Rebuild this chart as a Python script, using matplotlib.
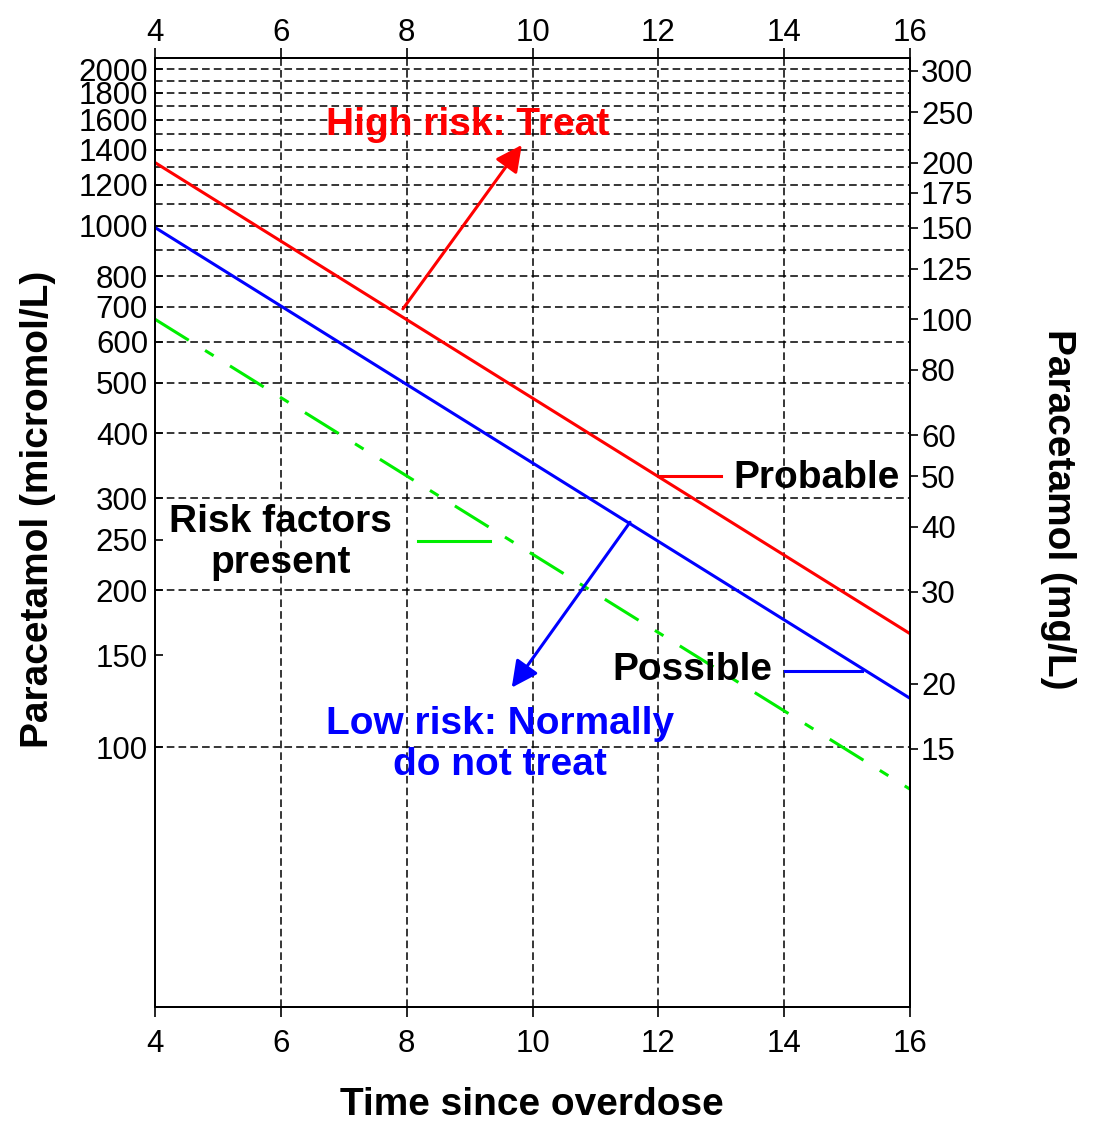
import matplotlib
matplotlib.use("Agg")
import matplotlib.pyplot as plt
from matplotlib.ticker import FixedLocator, NullLocator, NullFormatter, FixedFormatter

# ---- data ----
hours = [4, 16]
probable = [1323, 165]        # micromol/L (200 mg/L line)
possible = [993, 124]         # micromol/L (150 mg/L line)
risk_factors = [662, 83]      # micromol/L (100 mg/L line)
x_ticks = [4, 6, 8, 10, 12, 14, 16]
left_ticks = [100, 150, 200, 250, 300, 400, 500, 600, 700, 800,
              1000, 1200, 1400, 1600, 1800, 2000]
grid_levels = list(range(100, 2001, 100))
right_ticks = [15, 20, 30, 40, 50, 60, 80, 100, 125, 150, 175, 200, 250, 300]
mg_per_umol = 0.15116
y_limits = [31.7, 2100]

plt.rcParams['font.family'] = ['Liberation Sans', 'DejaVu Sans']

fig = plt.figure(figsize=(10.95, 11.24), dpi=100)
ax = fig.add_axes([155 / 1095, 1 - 1007 / 1124, 755 / 1095, 949 / 1124])

RED, BLUE, GREEN = '#ff0000', '#0000ff', '#00ee00'
TICK_FS = 22.5

ax.set_yscale('log')
ax.set_xlim(hours[0], hours[-1])
ax.set_ylim(*y_limits)

ax.plot(hours, probable, color=RED, lw=2.2, zorder=3)
ax.plot(hours, possible, color=BLUE, lw=2.2, zorder=3)
ax.plot(hours, risk_factors, color=GREEN, lw=2.2, zorder=3,
        linestyle=(0, (13, 6.3, 3.3, 6.3)))

# ticks / grid
ax.xaxis.set_major_locator(FixedLocator(x_ticks))
ax.xaxis.set_minor_locator(NullLocator())
ax.yaxis.set_major_locator(FixedLocator(left_ticks))
ax.yaxis.set_major_formatter(FixedFormatter([str(v) for v in left_ticks]))
ax.yaxis.set_minor_locator(FixedLocator(grid_levels))
ax.yaxis.set_minor_formatter(NullFormatter())
ax.yaxis.remove_overlapping_locs = False

grid_style = dict(color='black', lw=1.1, linestyle=(0, (5, 2.7)))
ax.grid(True, axis='x', which='major', **grid_style)
ax.grid(True, axis='y', which='minor', **grid_style)
ax.grid(False, axis='y', which='major')
ax.set_axisbelow(True)

ax.tick_params(axis='y', which='major', direction='in', length=6, width=1.2,
               labelsize=TICK_FS, pad=5, right=False)
ax.tick_params(axis='y', which='minor', length=0)
ax.tick_params(axis='x', which='major', direction='out', length=7, width=1.2,
               labelsize=TICK_FS, top=False, labeltop=False, pad=9)
for sp in ax.spines.values():
    sp.set_linewidth(1.4)

# top axis (same hours scale)
top = ax.secondary_xaxis('top')
top.xaxis.set_major_locator(FixedLocator(x_ticks))
top.xaxis.set_minor_locator(NullLocator())
top.tick_params(direction='out', length=7, width=1.2, labelsize=TICK_FS, pad=0.5)
top.spines['top'].set_linewidth(1.4)

# right axis in mg/L
ax2 = ax.twinx()
ax2.set_yscale('log')
ax2.set_ylim(y_limits[0] * mg_per_umol, y_limits[1] * mg_per_umol)
ax2.yaxis.set_major_locator(FixedLocator(right_ticks))
ax2.yaxis.set_major_formatter(FixedFormatter([str(v) for v in right_ticks]))
ax2.yaxis.set_minor_locator(NullLocator())
ax2.tick_params(axis='y', direction='out', length=6, width=1.2, labelsize=TICK_FS, pad=2)
for sp in ax2.spines.values():
    sp.set_linewidth(1.4)

# axis labels
lab = dict(fontsize=28, fontweight='bold')
ax.set_xlabel('Time since overdose', va='center', **lab)
ax.xaxis.set_label_coords(0.4993, -0.1035)
ax.set_ylabel('Paracetamol (micromol/L)', va='center', **lab)
ax.yaxis.set_label_coords(-0.155, 0.524)
ax2.set_ylabel('Paracetamol (mg/L)', rotation=270, va='center', **lab)
ax2.yaxis.set_label_coords(1.196, 0.524)

# annotations
ann = dict(fontsize=28, fontweight='bold', zorder=5)
ax.text(8.97, 1563, 'High risk: Treat', color=RED, ha='center', va='center', **ann)
ax.annotate('', xy=(9.83, 1430), xytext=(7.94, 693),
            arrowprops=dict(arrowstyle='-|>', color=RED, lw=2.2,
                            mutation_scale=40, shrinkA=0, shrinkB=0), zorder=4)

ax.plot([12.0, 13.0], [331, 331], color=RED, lw=2.2, zorder=3)
ax.text(13.19, 328, 'Probable', color='black', ha='left', va='center', **ann)

ax.plot([14.01, 15.24], [140, 140], color=BLUE, lw=2.2, zorder=3)
ax.text(13.82, 140.7, 'Possible', color='black', ha='right', va='center', **ann)

ax.plot([8.18, 9.32], [249, 249], color=GREEN, lw=2.2, zorder=3)
ax.text(5.99, 247, 'Risk factors\npresent', color='black', ha='center', va='center',
        linespacing=1.18, **ann)

ax.annotate('', xy=(9.67, 130), xytext=(11.55, 270),
            arrowprops=dict(arrowstyle='-|>', color=BLUE, lw=2.2,
                            mutation_scale=40, shrinkA=0, shrinkB=0), zorder=4)
ax.text(9.48, 101, 'Low risk: Normally\ndo not treat', color=BLUE, ha='center',
        va='center', linespacing=1.18, **ann)

fig.savefig('out.png', dpi=100)
